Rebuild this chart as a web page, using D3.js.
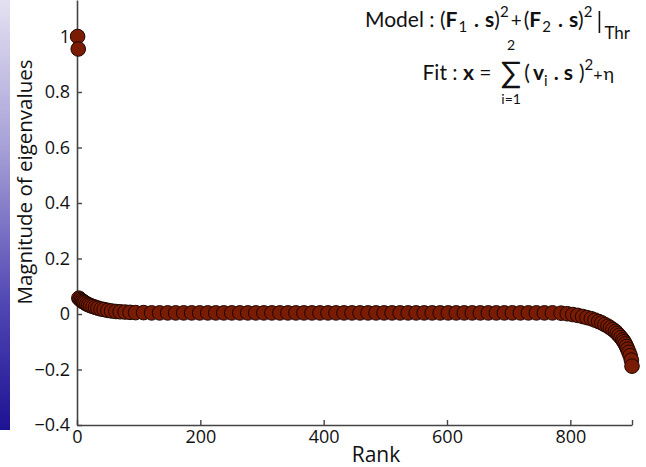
<!DOCTYPE html>
<html><head><meta charset="utf-8">
<script src="https://cdn.jsdelivr.net/npm/d3@7"></script>
<style>
html,body{margin:0;padding:0;background:#fff;}
svg{display:block;font-family:"Open Sans","Noto Sans",sans-serif;}
</style></head>
<body>
<svg id="c" width="646" height="467"></svg>
<script>
// ---- data ----
const ranks = [1,2,3,5,7,9,11,13,16,19,22,26,30,34,39,44,50,56,63,70,78,86,
  95,108,121,134,147,160,173,186,199,212,225,238,251,264,277,290,303,316,329,342,355,368,381,394,407,420,433,446,459,472,485,498,511,524,537,550,563,576,589,602,615,628,641,654,667,680,693,706,719,732,745,758,771,
  785,795,804,812,820,827,834,840,846,851,856,861,865,869,873,876,879,882,885,887,889,891,893,895,897,899,900];
const values = [1.0,0.955,0.057,0.053,0.049,0.046,0.043,0.040,0.036,0.033,0.030,0.027,0.024,0.021,0.018,0.016,0.013,0.011,0.009,0.008,0.007,0.006,
  0.005,0.005,0.004,0.004,0.004,0.004,0.004,0.004,0.004,0.004,0.004,0.004,0.004,0.004,0.004,0.004,0.004,0.004,0.004,0.004,0.004,0.004,0.004,0.004,0.004,0.004,0.004,0.004,0.004,0.004,0.004,0.004,0.004,0.004,0.004,0.004,0.004,0.004,0.004,0.004,0.004,0.004,0.004,0.004,0.004,0.004,0.004,0.004,0.004,0.004,0.004,0.004,0.004,
  0.003,0.001,-0.002,-0.005,-0.009,-0.013,-0.017,-0.022,-0.027,-0.032,-0.038,-0.044,-0.050,-0.056,-0.063,-0.070,-0.077,-0.085,-0.093,-0.100,-0.108,-0.117,-0.127,-0.138,-0.150,-0.166,-0.188];
const xTicks = [0,200,400,600,800,900];
const xTickLabels = ["0","200","400","600","800",""];
const yTicks = [-0.4,-0.2,0,0.2,0.4,0.6,0.8,1];
const yTickLabels = ["\u22120.4","\u22120.2","0","0.2","0.4","0.6","0.8","1"];
const xTitle = "Rank";
const yTitle = "Magnitude of eigenvalues";

// ---- chart ----
const svg = d3.select("#c");
const defs = svg.append("defs");
const g = defs.append("linearGradient").attr("id","strip").attr("x1",0).attr("y1",0).attr("x2",0).attr("y2",1);
g.append("stop").attr("offset","0%").attr("stop-color","#e4e1f2");
g.append("stop").attr("offset","35%").attr("stop-color","#a59fd6");
g.append("stop").attr("offset","70%").attr("stop-color","#5248b4");
g.append("stop").attr("offset","100%").attr("stop-color","#1e1294");
svg.append("rect").attr("x",0).attr("y",0).attr("width",10).attr("height",430).attr("fill","url(#strip)");

const x = d3.scaleLinear().domain([0,900]).range([77,632]);
const y = d3.scaleLinear().domain([-0.4,1.1315]).range([425,0]);

const axColor = "#444";
const xAxis = d3.axisBottom(x).tickValues(xTicks).tickFormat((d,i)=>xTickLabels[i])
  .tickSizeInner(-5).tickSizeOuter(0).tickPadding(5);
const yAxis = d3.axisLeft(y).tickValues(yTicks).tickFormat((d,i)=>yTickLabels[i])
  .tickSizeInner(-5).tickSizeOuter(0).tickPadding(7);

const gx = svg.append("g").attr("transform","translate(0,425)").call(xAxis);
const gy = svg.append("g").attr("transform","translate(77,0)").call(yAxis);
[gx,gy].forEach(a=>{
  a.select(".domain").attr("stroke",axColor).attr("stroke-width",1.6);
  a.selectAll(".tick line").attr("stroke",axColor).attr("stroke-width",1.4);
  a.selectAll(".tick text").attr("fill","#111").style("font-size","18px").style("font-family","'Open Sans','Noto Sans',sans-serif");
});

svg.append("text").attr("x",376).attr("y",462).attr("text-anchor","middle")
  .style("font-size","21px").attr("fill","#111").text(xTitle);
svg.append("text").attr("transform","translate(32,182) rotate(-90)").attr("text-anchor","middle")
  .style("font-size","20.5px").attr("fill","#111").text(yTitle);

// points
const pts = ranks.map((r,i)=>({r, v: values[i]}));
svg.append("g").selectAll("circle").data(pts).join("circle")
  .attr("cx",d=>x(d.r)).attr("cy",d=>y(d.v)).attr("r",7.3)
  .attr("fill","#7a1c04").attr("stroke","#1e0600").attr("stroke-width",1);

// formula: flow layout, right-aligned
const FF = "'Lato','Open Sans',sans-serif";
function flowLine(items, baseline, rightX) {
  const grp = svg.append("g").attr("fill","#111");
  let cx = 0;
  items.forEach(it => {
    if (it.gap) { cx += it.gap; return; }
    if (it.bar) {
      grp.append("line").attr("x1",cx+1).attr("x2",cx+1).attr("y1",baseline+it.y1).attr("y2",baseline+it.y2)
        .attr("stroke","#111").attr("stroke-width",1.6);
      cx += 4; return;
    }
    if (it.sum) {
      const s = grp.append("text").attr("x",cx).attr("y",baseline+3).style("font-family",FF).style("font-size","30px").text("\u2211");
      const w = s.node().getComputedTextLength();
      grp.append("text").attr("x",cx+w/2).attr("y",baseline-30).attr("text-anchor","middle").style("font-family",FF).style("font-size","14px").text(it.top);
      grp.append("text").attr("x",cx+w/2).attr("y",baseline+23.5).attr("text-anchor","middle").style("font-family",FF).style("font-size","14px").text(it.bot);
      cx += w; return;
    }
    const t = grp.append("text").attr("x",cx).attr("y",baseline+(it.dy||0))
      .style("font-family",FF).style("font-size",(it.size||21)+"px")
      .style("font-weight",it.b?"bold":"normal").attr("xml:space","preserve").text(it.t);
    cx += t.node().getComputedTextLength();
  });
  grp.attr("transform",`translate(${rightX-cx},0)`);
}
flowLine([
  {t:"Model : "},{t:"("},{t:"F",b:true},{gap:1},{t:"1",size:15,dy:5},{gap:7},{t:".",b:true},{gap:6},{t:"s",b:true},{t:")"},{t:"2",size:15,dy:-10},
  {gap:2},{t:"+",size:19},{gap:2},{t:"("},{t:"F",b:true},{gap:1},{t:"2",size:15,dy:5},{gap:7},{t:".",b:true},{gap:6},{t:"s",b:true},{t:")"},{t:"2",size:15,dy:-10},
  {gap:6},{bar:true,y1:-16,y2:6},{gap:2},{t:"Thr",size:17,dy:12}
], 27, 630);
flowLine([
  {t:"Fit : "},{t:"x",b:true},{t:" = "},{gap:4},{sum:true,top:"2",bot:"i=1"},{gap:3},{t:"("},{gap:3},{t:"v",b:true},{t:"i",size:15,dy:6},{gap:6},{t:".",b:true},{gap:5},{t:"s",b:true},{gap:6},{t:")"},{t:"2",size:15,dy:-10},{t:"+",size:16},{gap:1},{t:"\u03b7",size:18}
], 80, 614);
</script>
</body></html>
